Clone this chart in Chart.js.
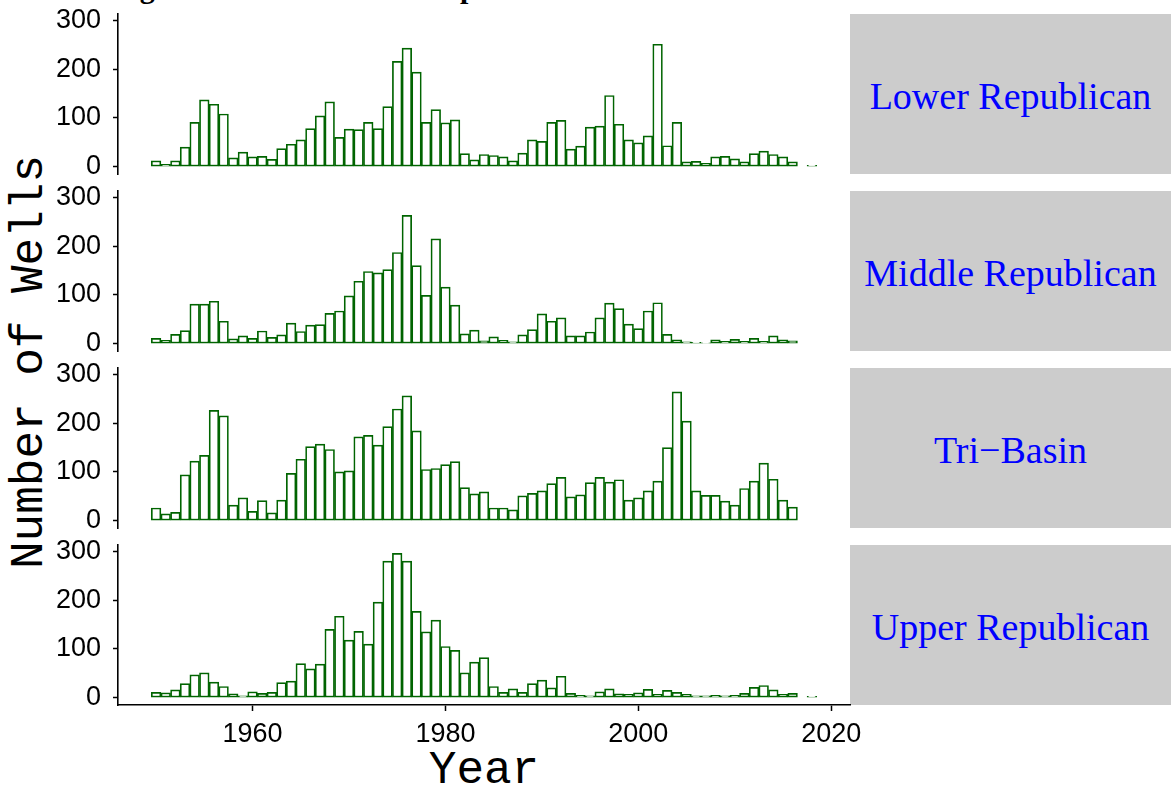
<!DOCTYPE html>
<html>
<head>
<meta charset="utf-8">
<script src="https://cdn.jsdelivr.net/npm/chart.js@4"></script>
<style>
  body { margin: 0; width: 1171px; height: 791px; position: relative; overflow: hidden; background: #fff; }
  canvas { position: absolute; }
  .strip { position: absolute; left: 850px; width: 321px; height: 160px; background: #cccccc;
           display: flex; align-items: center; justify-content: center; padding-top: 4px; box-sizing: border-box;
           font-family: "Liberation Serif", "Times New Roman", serif; font-size: 38px; color: #0000ff; }
  .title { position: absolute; left: 118px; top: -27px; line-height: 30px; white-space: nowrap;
           font-family: "Liberation Serif", "Times New Roman", serif; font-weight: bold; font-size: 30px; color: #000; }
  .axtitle { position: absolute; white-space: nowrap; line-height: 46px;
             font-family: "Courier New", "Liberation Mono", monospace; font-size: 46px; color: #000; }
</style>
</head>
<body>
<div class="title">Agricultural Wells Drilled per Year</div>
<div class="axtitle" style="left:30px; top:362px; transform: translate(-50%, -50%) rotate(-90deg);">Number of Wells</div>
<div class="axtitle" style="left:484px; top:771px; transform: translate(-50%, -50%);">Year</div>

<script>
//data, one value per year (2017 has no bar)
const years = [1950, 1951, 1952, 1953, 1954, 1955, 1956, 1957, 1958, 1959,
               1960, 1961, 1962, 1963, 1964, 1965, 1966, 1967, 1968, 1969,
               1970, 1971, 1972, 1973, 1974, 1975, 1976, 1977, 1978, 1979,
               1980, 1981, 1982, 1983, 1984, 1985, 1986, 1987, 1988, 1989,
               1990, 1991, 1992, 1993, 1994, 1995, 1996, 1997, 1998, 1999,
               2000, 2001, 2002, 2003, 2004, 2005, 2006, 2007, 2008, 2009,
               2010, 2011, 2012, 2013, 2014, 2015, 2016, 2018];

const lowerRepublican = [12, 5, 12, 40, 91, 137, 128, 108, 18, 30,
                         20, 21, 15, 37, 46, 55, 78, 104, 133, 60,
                         77, 76, 91, 78, 123, 216, 243, 194, 91, 117,
                         90, 96, 27, 14, 25, 23, 20, 12, 28, 55,
                         52, 91, 95, 36, 42, 81, 83, 146, 87, 55,
                         49, 63, 251, 43, 91, 10, 11, 7, 20, 21,
                         16, 10, 27, 32, 25, 20, 10, 3];

const middleRepublican = [11, 7, 19, 27, 81, 81, 87, 46, 10, 16,
                          11, 26, 13, 18, 42, 25, 38, 39, 62, 67,
                          98, 128, 148, 145, 152, 187, 263, 160, 99, 215,
                          116, 79, 20, 28, 6, 14, 7, 4, 18, 29,
                          61, 46, 53, 16, 16, 24, 53, 83, 72, 40,
                          31, 67, 84, 19, 8, 4, 3, 2, 8, 5,
                          9, 5, 11, 5, 16, 8, 6, null];

const triBasin = [26, 14, 17, 94, 122, 134, 226, 215, 32, 47,
                  19, 41, 16, 42, 97, 126, 152, 157, 146, 100,
                  102, 172, 175, 155, 193, 229, 256, 184, 105, 107,
                  115, 121, 68, 55, 59, 26, 26, 22, 51, 56,
                  61, 76, 89, 49, 53, 78, 89, 79, 84, 42,
                  47, 61, 81, 150, 264, 204, 61, 52, 52, 40,
                  32, 66, 81, 118, 85, 42, 28, null];

const upperRepublican = [11, 10, 16, 29, 47, 51, 32, 23, 8, 4,
                         12, 9, 11, 31, 34, 70, 59, 69, 140, 167,
                         118, 136, 110, 196, 280, 296, 280, 177, 135, 159,
                         105, 97, 51, 73, 82, 23, 11, 18, 11, 29,
                         36, 20, 44, 9, 5, 4, 12, 18, 8, 7,
                         10, 17, 7, 15, 11, 7, 4, 4, 5, 4,
                         5, 9, 21, 25, 16, 7, 9, 3];

const panelNames = ["Lower Republican", "Middle Republican", "Tri\u2212Basin", "Upper Republican"];
const panelValues = [lowerRepublican, middleRepublican, triBasin, upperRepublican];
const xTicks = [1960, 1980, 2000, 2020];
const yTicks = [0, 100, 200, 300];

//layout of the facet panels
const panelTops = [14, 191, 368, 545];
const panelHeight = 160;
const padTop = 14;
const padRight = 50;

Chart.defaults.font.family = '"Liberation Sans", Arial, sans-serif';
Chart.defaults.color = '#000';

panelNames.forEach((name, i) => {
    let last = i === panelNames.length - 1;
    let top = panelTops[i] - padTop;
    let canvas = document.createElement('canvas');
    canvas.width = 850 + padRight;
    canvas.height = last ? 791 - top : panelHeight + padTop + 14;
    canvas.style.left = '0px';
    canvas.style.top = top + 'px';

    let strip = document.createElement('div');
    strip.className = 'strip';
    strip.style.top = panelTops[i] + 'px';
    strip.textContent = name;
    document.body.appendChild(strip);
    document.body.appendChild(canvas);

    new Chart(canvas.getContext('2d'), {
        type: 'bar',
        data: {
            datasets: [{
                data: years.map((y, k) => ({ x: y, y: panelValues[i][k] })),
                backgroundColor: '#ffffff',
                borderColor: '#006400',
                borderWidth: 1.7,
                borderSkipped: false,
                categoryPercentage: 1,
                barPercentage: 1
            }]
        },
        options: {
            responsive: false,
            animation: false,
            devicePixelRatio: 1,
            layout: { padding: { top: padTop, left: 0, right: padRight, bottom: 0 } },
            plugins: { legend: { display: false }, tooltip: { enabled: false } },
            scales: {
                x: {
                    type: 'linear',
                    min: 1946.05,
                    max: 2021.95,
                    offset: false,
                    grid: { offset: false, drawOnChartArea: false, drawTicks: last, tickLength: 6, tickColor: '#000', tickWidth: 1.5 },
                    border: { display: last, color: '#000', width: 1.6 },
                    ticks: { display: last, font: { size: 27 }, padding: 7, maxRotation: 0, callback: v => String(v) },
                    afterBuildTicks: s => { s.ticks = xTicks.map(v => ({ value: v })); },
                    afterFit: s => {
                        s.height = last ? 86 : 14;
                        s.paddingLeft = 0;
                        s.paddingRight = 0;
                    }
                },
                y: {
                    min: -15,
                    max: 313,
                    grid: { drawOnChartArea: false, drawTicks: true, tickLength: 5, tickColor: '#000', tickWidth: 1.5 },
                    border: { display: true, color: '#000', width: 1.6 },
                    ticks: { font: { size: 27 }, padding: 12 },
                    afterBuildTicks: s => { s.ticks = yTicks.map(v => ({ value: v })); },
                    afterFit: s => {
                        s.width = 118;
                        s.paddingTop = 0;
                        s.paddingBottom = 0;
                    }
                }
            }
        }
    });
});
</script>
</body>
</html>
